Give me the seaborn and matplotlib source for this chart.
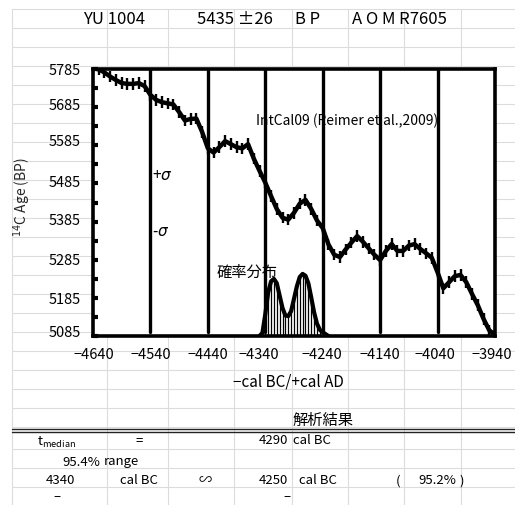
import matplotlib
matplotlib.use("Agg")
import matplotlib.pyplot as plt
from matplotlib.lines import Line2D
import numpy as np
import pandas as pd
import seaborn as sns

# IntCal09 calibration curve: calendar year (negative = cal BC) and 14C age (BP)
curve_year = [-4640, -4630, -4620, -4610, -4600, -4590, -4580, -4570, -4560, -4550,
              -4540, -4530, -4520, -4510, -4500, -4490, -4480, -4470, -4460, -4450,
              -4440, -4430, -4420, -4410, -4400, -4390, -4380, -4370, -4360, -4350,
              -4340, -4330, -4320, -4310, -4300, -4290, -4280, -4270, -4260, -4250,
              -4240, -4230, -4220, -4210, -4200, -4190, -4180, -4170, -4160, -4150,
              -4140, -4130, -4120, -4110, -4100, -4090, -4080, -4070, -4060, -4050,
              -4040, -4030, -4020, -4010, -4000, -3990, -3980, -3970, -3960, -3950,
              -3940]
curve_age = [5787, 5784, 5776, 5765, 5756, 5748, 5746, 5746, 5748, 5740,
             5717, 5704, 5698, 5695, 5692, 5672, 5650, 5654, 5655, 5620,
             5577, 5566, 5580, 5596, 5588, 5580, 5577, 5588, 5550, 5518,
             5487, 5452, 5418, 5395, 5390, 5408, 5432, 5442, 5418, 5388,
             5368, 5325, 5298, 5292, 5312, 5330, 5347, 5332, 5315, 5298,
             5284, 5308, 5326, 5308, 5308, 5322, 5326, 5313, 5302, 5290,
             5252, 5210, 5226, 5242, 5245, 5226, 5195, 5166, 5130, 5100,
             5088]
curve_sigma = 15

# Calibrated age probability distribution (relative density)
prob_year = [-4350, -4345, -4340, -4335, -4330, -4325, -4320, -4315, -4310, -4305,
             -4300, -4295, -4290, -4285, -4280, -4275, -4270, -4265, -4260, -4255,
             -4250, -4245, -4240, -4235, -4230]
prob_density = [0.00, 0.05, 0.35, 0.70, 0.88, 0.92, 0.85, 0.65, 0.45, 0.33,
                0.32, 0.40, 0.60, 0.80, 0.95, 1.00, 0.97, 0.85, 0.62, 0.38,
                0.20, 0.10, 0.06, 0.03, 0.00]

y_labels = ["5785", "5685", "5585", "5485", "5385", "5285", "5185", "5085"]
x_labels = ["-4640", "-4540", "-4440", "-4340", "-4240", "-4140", "-4040", "-3940"]
guide_years = [-4540, -4440, -4340, -4240, -4140, -4040]

sample_id = "YU 1004"
sample_age = "5435 ±26"
sample_unit = "B P"
sample_code = "A O M R7605"
median_year = "4290"
range_from = "4340"
range_to = "4250"
range_prob = "95.2%"

sns.set_theme(style="white")
JP = ["Noto Sans CJK JP", "DejaVu Sans"]
plt.rcParams["font.family"] = JP
plt.rcParams["mathtext.fontset"] = "dejavusans"

W, H = 515, 505
fig = plt.figure(figsize=(W / 100, H / 100), dpi=100)
fig.patch.set_facecolor("white")


def fx(px):
    return px / W


def fy(py):
    return 1 - py / H


def cell_text(px, py, s, size=9.0, ha="left", **kw):
    fig.text(fx(px), fy(py), s, ha=ha, va="center", fontsize=size,
             color="black", **kw)


# spreadsheet cell grid
grid_color = "#dcdcdc"
col_lines = [12, 107, 168, 234, 292, 348, 404, 461]
row_lines = [9 + 19 * k for k in range(23)] + [449, 468, 487]
for c in col_lines:
    fig.add_artist(Line2D([fx(c), fx(c)], [fy(9), fy(505)], color=grid_color,
                          lw=0.8, zorder=-5))
for r in row_lines:
    fig.add_artist(Line2D([fx(12), fx(515)], [fy(r), fy(r)], color=grid_color,
                          lw=0.8, zorder=-5))
for r in (429, 432):
    fig.add_artist(Line2D([fx(12), fx(515)], [fy(r), fy(r)], color="#222222",
                          lw=1.0, zorder=-4))

# chart
ax = fig.add_axes([fx(93), fy(336), (495 - 93) / W, (336 - 69) / H])
ax.set_facecolor("white")
df = pd.DataFrame({"year": curve_year, "age": curve_age})
ax.vlines(df["year"], df["age"] - curve_sigma, df["age"] + curve_sigma,
          color="black", lw=1.7, zorder=3)
sns.lineplot(data=df, x="year", y="age", ax=ax, color="black", lw=3.2,
             zorder=4)
for g in guide_years:
    ax.axvline(g, ymin=0.015, ymax=1, color="black", lw=2.4, zorder=2)

ax.set_xlim(-4640, -3940)
ax.set_ylim(5085, 5785)
ax.set_yticks(np.arange(5085, 5786, 50))
ax.set_xticks(np.arange(-4640, -3939, 50))
ax.set_yticklabels([])
ax.set_xticklabels([])
ax.tick_params(axis="y", direction="in", length=3.5, width=3, color="black",
               left=True)
ax.tick_params(axis="x", direction="in", length=1.5, width=1, color="#aaaaaa",
               bottom=True)
ax.set_xlabel("")
ax.set_ylabel("")
for sp in ax.spines.values():
    sp.set_color("black")
    sp.set_linewidth(2.6)

# probability distribution on its own scale
ax2 = ax.twinx()
ax2.set_ylim(0, 4.3)
ax2.vlines(prob_year, 0, prob_density, color="black", lw=0.9, zorder=3)
sns.lineplot(x=prob_year, y=prob_density, ax=ax2, color="black", lw=3.0,
             zorder=4)
ax2.set_yticks([])
ax2.set_ylabel("")
for sp in ax2.spines.values():
    sp.set_visible(False)

# chart texts
cell_text(152, 176, "+$\\sigma$", size=11)
cell_text(152, 232, "-$\\sigma$", size=11)
cell_text(256, 121, "IntCal09 (Reimer et al.,2009)", size=10)
cell_text(217, 272, "確率分布", size=11)

# header row
cell_text(83, 20, sample_id, size=12)
cell_text(197, 20, sample_age, size=12)
cell_text(295, 20, sample_unit, size=12)
cell_text(352, 20, sample_code, size=12)

# axis labels
y_label_rows = [71, 106, 142, 183, 221, 261, 300, 333]
for lab, r in zip(y_labels, y_label_rows):
    cell_text(81, r, lab, size=10.5, ha="right")
x_label_cols = [94, 151, 208, 259, 322, 380, 435, 492]
for lab, c in zip(x_labels, x_label_cols):
    cell_text(c, 355, lab.replace("-", "−"), size=10.5, ha="center")
fig.text(fx(22), fy(197), "$^{14}$C Age (BP)", rotation=90, ha="center",
         va="center", fontsize=10)
cell_text(233, 382, "−cal BC/+cal AD", size=11)

# results table
cell_text(293, 420, "解析結果", size=11)
cell_text(57, 442, "t$_{\\mathregular{median}}$", size=9.5, ha="center")
cell_text(139, 441, "=", size=9.5, ha="center")
cell_text(288, 441, median_year, size=9.5, ha="right")
cell_text(293, 441, "cal BC", size=9.5)
cell_text(100, 462, "95.4%", size=9.5, ha="right")
cell_text(104, 462, "range", size=9.5)
cell_text(60, 481, range_from, size=9.5, ha="center")
cell_text(120, 481, "cal BC", size=9.5)
cell_text(205, 481, "∽", size=9.5, ha="center")
cell_text(288, 481, range_to, size=9.5, ha="right")
cell_text(299, 481, "cal BC", size=9.5)
cell_text(398, 481, "(", size=9.5, ha="center")
cell_text(418, 481, range_prob, size=9.5)
cell_text(462, 481, ")", size=9.5, ha="center")
cell_text(57, 497, "–", size=9.5, ha="center")
cell_text(287, 497, "–", size=9.5, ha="center")

fig.savefig("out.png", dpi=100, facecolor="white")
